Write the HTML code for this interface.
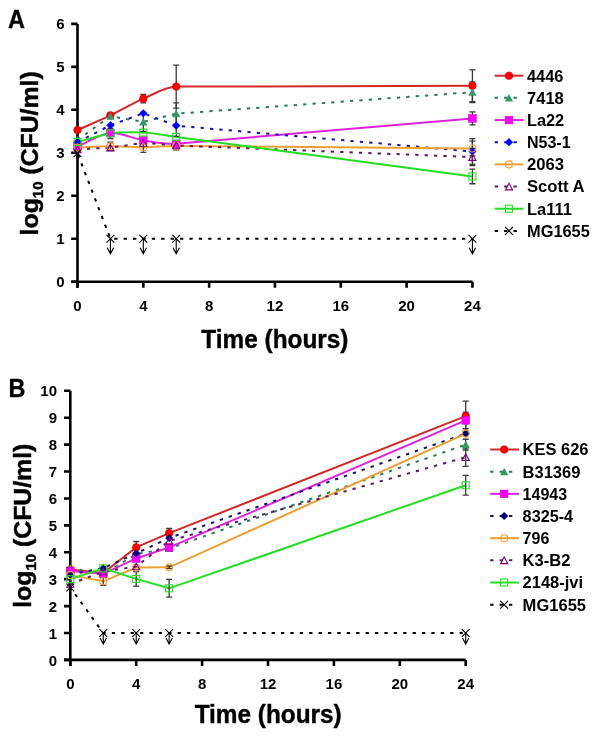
<!DOCTYPE html>
<html><head><meta charset="utf-8"><style>
html,body{margin:0;padding:0;background:#fff;width:600px;height:742px;overflow:hidden;}
svg{display:block;font-family:"Liberation Sans",sans-serif;will-change:transform;}
</style></head><body>
<svg width="600" height="742" viewBox="0 0 600 742">
<rect width="600" height="742" fill="#fff"/>
<text transform="translate(7.9 28.4) scale(0.92 1)" font-size="25.5" stroke="#000" stroke-width="0.35" font-family="Liberation Sans, sans-serif" font-weight="bold">A</text>
<text transform="translate(8.4 396.7) scale(0.92 1)" font-size="25.5" stroke="#000" stroke-width="0.35" font-family="Liberation Sans, sans-serif" font-weight="bold">B</text>
<path d="M77.50 23.88V287.70M71.20 281.70H472.42" stroke="#000" stroke-width="2.6" fill="none"/>
<path d="M71.20 281.70H77.50M71.20 238.73H77.50M71.20 195.76H77.50M71.20 152.79H77.50M71.20 109.82H77.50M71.20 66.85H77.50M71.20 23.88H77.50M77.50 281.70V287.70M143.32 281.70V287.70M209.14 281.70V287.70M274.96 281.70V287.70M340.78 281.70V287.70M406.60 281.70V287.70M472.42 281.70V287.70" stroke="#000" stroke-width="2.6" fill="none" stroke-linecap="butt"/>
<text x="64.50" y="287.30" text-anchor="end" font-size="15" font-family="Liberation Sans, sans-serif" font-weight="bold">0</text>
<text x="64.50" y="244.33" text-anchor="end" font-size="15" font-family="Liberation Sans, sans-serif" font-weight="bold">1</text>
<text x="64.50" y="201.36" text-anchor="end" font-size="15" font-family="Liberation Sans, sans-serif" font-weight="bold">2</text>
<text x="64.50" y="158.39" text-anchor="end" font-size="15" font-family="Liberation Sans, sans-serif" font-weight="bold">3</text>
<text x="64.50" y="115.42" text-anchor="end" font-size="15" font-family="Liberation Sans, sans-serif" font-weight="bold">4</text>
<text x="64.50" y="72.45" text-anchor="end" font-size="15" font-family="Liberation Sans, sans-serif" font-weight="bold">5</text>
<text x="64.50" y="29.48" text-anchor="end" font-size="15" font-family="Liberation Sans, sans-serif" font-weight="bold">6</text>
<text x="77.50" y="311.05" text-anchor="middle" font-size="15" font-family="Liberation Sans, sans-serif" font-weight="bold">0</text>
<text x="143.32" y="311.05" text-anchor="middle" font-size="15" font-family="Liberation Sans, sans-serif" font-weight="bold">4</text>
<text x="209.14" y="311.05" text-anchor="middle" font-size="15" font-family="Liberation Sans, sans-serif" font-weight="bold">8</text>
<text x="274.96" y="311.05" text-anchor="middle" font-size="15" font-family="Liberation Sans, sans-serif" font-weight="bold">12</text>
<text x="340.78" y="311.05" text-anchor="middle" font-size="15" font-family="Liberation Sans, sans-serif" font-weight="bold">16</text>
<text x="406.60" y="311.05" text-anchor="middle" font-size="15" font-family="Liberation Sans, sans-serif" font-weight="bold">20</text>
<text x="472.42" y="311.05" text-anchor="middle" font-size="15" font-family="Liberation Sans, sans-serif" font-weight="bold">24</text>
<text transform="translate(274.90 347.80) scale(0.975 1)" text-anchor="middle" font-size="25" stroke="#000" stroke-width="0.4" font-family="Liberation Sans, sans-serif" font-weight="bold">Time (hours)</text>
<text transform="translate(38.00 153.35) rotate(-90)" text-anchor="middle" font-size="24.8" stroke="#000" stroke-width="0.45" font-family="Liberation Sans, sans-serif" font-weight="bold">log<tspan font-size="15" dy="5.3">10</tspan><tspan dy="-5.3"> (CFU/ml)</tspan></text>
<path d="M77.50 130.02C88.47 125.15 99.44 120.63 110.41 115.41C121.38 110.18 132.35 103.45 143.32 98.65C154.29 93.85 165.26 87.05 176.23 86.62L472.42 85.76" fill="none" stroke="#d42727" stroke-width="2.0"/>
<path d="M77.50 139.90L110.41 116.27L143.32 121.85L176.23 113.69L472.42 92.20" fill="none" stroke="#2b7a5c" stroke-width="2.0" stroke-dasharray="3.3 6.1"/>
<path d="M77.50 146.34C88.47 141.90 99.44 134.03 110.41 133.02C121.38 132.02 132.35 138.54 143.32 140.33C154.29 142.12 165.26 144.50 176.23 143.77L472.42 118.41" fill="none" stroke="#dd22dd" stroke-width="2.0"/>
<path d="M77.50 142.05L110.41 125.29L143.32 113.26L176.23 125.72L472.42 151.50" fill="none" stroke="#1414b8" stroke-width="2.0" stroke-dasharray="3.3 6.1"/>
<path d="M77.50 147.63C88.47 147.20 99.44 146.42 110.41 146.34C121.38 146.27 132.35 147.28 143.32 147.20C154.29 147.13 165.26 145.87 176.23 145.91L472.42 148.49" fill="none" stroke="#eca033" stroke-width="2.0"/>
<path d="M77.50 149.35L110.41 147.63L143.32 142.91L176.23 145.49L472.42 157.09" fill="none" stroke="#5e1a60" stroke-width="2.0" stroke-dasharray="3.3 6.1"/>
<path d="M77.50 142.05C88.47 139.18 99.44 135.03 110.41 133.45C121.38 131.88 132.35 132.02 143.32 132.59C154.29 133.17 165.26 135.43 176.23 136.89L472.42 176.42" fill="none" stroke="#22dd22" stroke-width="2.0"/>
<path d="M77.50 153.22L110.41 238.73L143.32 238.73L176.23 238.73L472.42 238.73" fill="none" stroke="#000000" stroke-width="2.0" stroke-dasharray="3.3 6.1" stroke-dashoffset="-1.4"/>
<path d="M143.32 94.35V102.94M140.32 94.35H146.32M140.32 102.94H146.32" stroke="#3a3a3a" stroke-width="1.3" fill="none"/>
<path d="M176.23 65.13V108.10M173.23 65.13H179.23M173.23 108.10H179.23" stroke="#3a3a3a" stroke-width="1.3" fill="none"/>
<path d="M472.42 69.86V101.66M469.42 69.86H475.42M469.42 101.66H475.42" stroke="#3a3a3a" stroke-width="1.3" fill="none"/>
<path d="M143.32 112.40V131.31M140.32 112.40H146.32M140.32 131.31H146.32" stroke="#3a3a3a" stroke-width="1.3" fill="none"/>
<path d="M176.23 102.94V124.43M173.23 102.94H179.23M173.23 124.43H179.23" stroke="#3a3a3a" stroke-width="1.3" fill="none"/>
<path d="M472.42 81.89V102.52M469.42 81.89H475.42M469.42 102.52H475.42" stroke="#3a3a3a" stroke-width="1.3" fill="none"/>
<path d="M472.42 111.97V124.86M469.42 111.97H475.42M469.42 124.86H475.42" stroke="#3a3a3a" stroke-width="1.3" fill="none"/>
<path d="M176.23 114.98V136.46M173.23 114.98H179.23M173.23 136.46H179.23" stroke="#3a3a3a" stroke-width="1.3" fill="none"/>
<path d="M472.42 138.61V164.39M469.42 138.61H475.42M469.42 164.39H475.42" stroke="#3a3a3a" stroke-width="1.3" fill="none"/>
<path d="M110.41 142.05V150.64M107.41 142.05H113.41M107.41 150.64H113.41" stroke="#3a3a3a" stroke-width="1.3" fill="none"/>
<path d="M143.32 142.05V152.36M140.32 142.05H146.32M140.32 152.36H146.32" stroke="#3a3a3a" stroke-width="1.3" fill="none"/>
<path d="M472.42 141.19V155.80M469.42 141.19H475.42M469.42 155.80H475.42" stroke="#3a3a3a" stroke-width="1.3" fill="none"/>
<path d="M472.42 148.49V165.68M469.42 148.49H475.42M469.42 165.68H475.42" stroke="#3a3a3a" stroke-width="1.3" fill="none"/>
<path d="M176.23 141.19V149.78M173.23 141.19H179.23M173.23 149.78H179.23" stroke="#3a3a3a" stroke-width="1.3" fill="none"/>
<path d="M110.41 128.30V138.61M107.41 128.30H113.41M107.41 138.61H113.41" stroke="#3a3a3a" stroke-width="1.3" fill="none"/>
<path d="M472.42 169.12V183.73M469.42 169.12H475.42M469.42 183.73H475.42" stroke="#3a3a3a" stroke-width="1.3" fill="none"/>
<path d="M110.41 238.73V253.73M107.21 247.73L110.41 253.73L113.61 247.73" stroke="#000" stroke-width="1.1" fill="none"/>
<path d="M143.32 238.73V253.73M140.12 247.73L143.32 253.73L146.52 247.73" stroke="#000" stroke-width="1.1" fill="none"/>
<path d="M176.23 238.73V253.73M173.03 247.73L176.23 253.73L179.43 247.73" stroke="#000" stroke-width="1.1" fill="none"/>
<path d="M472.42 238.73V253.73M469.22 247.73L472.42 253.73L475.62 247.73" stroke="#000" stroke-width="1.1" fill="none"/>
<circle cx="77.50" cy="130.02" r="3.80" fill="#ff0000" stroke="#d00000" stroke-width="0.6"/>
<circle cx="110.41" cy="115.41" r="3.80" fill="#ff0000" stroke="#d00000" stroke-width="0.6"/>
<circle cx="143.32" cy="98.65" r="3.80" fill="#ff0000" stroke="#d00000" stroke-width="0.6"/>
<circle cx="176.23" cy="86.62" r="3.80" fill="#ff0000" stroke="#d00000" stroke-width="0.6"/>
<circle cx="472.42" cy="85.76" r="3.80" fill="#ff0000" stroke="#d00000" stroke-width="0.6"/>
<path d="M77.50 136.00L81.60 143.50L73.40 143.50Z" fill="#339966"/>
<path d="M110.41 112.37L114.51 119.87L106.31 119.87Z" fill="#339966"/>
<path d="M143.32 117.95L147.42 125.45L139.22 125.45Z" fill="#339966"/>
<path d="M176.23 109.79L180.33 117.29L172.13 117.29Z" fill="#339966"/>
<path d="M472.42 88.30L476.52 95.80L468.32 95.80Z" fill="#339966"/>
<rect x="73.70" y="142.54" width="7.60" height="7.60" fill="#ff00ff" stroke="#cc00cc" stroke-width="0.6"/>
<rect x="106.61" y="129.22" width="7.60" height="7.60" fill="#ff00ff" stroke="#cc00cc" stroke-width="0.6"/>
<rect x="139.52" y="136.53" width="7.60" height="7.60" fill="#ff00ff" stroke="#cc00cc" stroke-width="0.6"/>
<rect x="172.43" y="139.97" width="7.60" height="7.60" fill="#ff00ff" stroke="#cc00cc" stroke-width="0.6"/>
<rect x="468.62" y="114.61" width="7.60" height="7.60" fill="#ff00ff" stroke="#cc00cc" stroke-width="0.6"/>
<path d="M77.50 137.95L81.60 142.05L77.50 146.15L73.40 142.05Z" fill="#0000ff"/>
<path d="M110.41 121.19L114.51 125.29L110.41 129.39L106.31 125.29Z" fill="#0000ff"/>
<path d="M143.32 109.16L147.42 113.26L143.32 117.36L139.22 113.26Z" fill="#0000ff"/>
<path d="M176.23 121.62L180.33 125.72L176.23 129.82L172.13 125.72Z" fill="#0000ff"/>
<path d="M472.42 147.40L476.52 151.50L472.42 155.60L468.32 151.50Z" fill="#0000ff"/>
<circle cx="77.50" cy="147.63" r="3.50" fill="none" stroke="#f8a030" stroke-width="1.1"/>
<circle cx="110.41" cy="146.34" r="3.50" fill="none" stroke="#f8a030" stroke-width="1.1"/>
<circle cx="143.32" cy="147.20" r="3.50" fill="none" stroke="#f8a030" stroke-width="1.1"/>
<circle cx="176.23" cy="145.91" r="3.50" fill="none" stroke="#f8a030" stroke-width="1.1"/>
<circle cx="472.42" cy="148.49" r="3.50" fill="none" stroke="#f8a030" stroke-width="1.1"/>
<path d="M77.50 145.95L81.10 152.65L73.90 152.65Z" fill="none" stroke="#800080" stroke-width="1.1"/>
<path d="M110.41 144.23L114.01 150.93L106.81 150.93Z" fill="none" stroke="#800080" stroke-width="1.1"/>
<path d="M143.32 139.51L146.92 146.21L139.72 146.21Z" fill="none" stroke="#800080" stroke-width="1.1"/>
<path d="M176.23 142.09L179.83 148.79L172.63 148.79Z" fill="none" stroke="#800080" stroke-width="1.1"/>
<path d="M472.42 153.69L476.02 160.39L468.82 160.39Z" fill="none" stroke="#800080" stroke-width="1.1"/>
<rect x="74.00" y="138.55" width="7.00" height="7.00" fill="none" stroke="#22dd22" stroke-width="1.1"/>
<rect x="106.91" y="129.95" width="7.00" height="7.00" fill="none" stroke="#22dd22" stroke-width="1.1"/>
<rect x="139.82" y="129.09" width="7.00" height="7.00" fill="none" stroke="#22dd22" stroke-width="1.1"/>
<rect x="172.73" y="133.39" width="7.00" height="7.00" fill="none" stroke="#22dd22" stroke-width="1.1"/>
<rect x="468.92" y="172.92" width="7.00" height="7.00" fill="none" stroke="#22dd22" stroke-width="1.1"/>
<path d="M73.60 149.32L81.40 157.12M81.40 149.32L73.60 157.12" stroke="#000" stroke-width="1.1" fill="none"/>
<path d="M106.51 234.83L114.31 242.63M114.31 234.83L106.51 242.63" stroke="#000" stroke-width="1.1" fill="none"/>
<path d="M139.42 234.83L147.22 242.63M147.22 234.83L139.42 242.63" stroke="#000" stroke-width="1.1" fill="none"/>
<path d="M172.33 234.83L180.13 242.63M180.13 234.83L172.33 242.63" stroke="#000" stroke-width="1.1" fill="none"/>
<path d="M468.52 234.83L476.32 242.63M476.32 234.83L468.52 242.63" stroke="#000" stroke-width="1.1" fill="none"/>
<path d="M494.70 75.70H523.50" stroke="#d42727" stroke-width="2.0"/>
<circle cx="509.00" cy="75.70" r="3.80" fill="#ff0000" stroke="#d00000" stroke-width="0.6"/>
<text transform="translate(527.00 81.60) scale(1.02 1)" font-size="16" font-family="Liberation Sans, sans-serif" font-weight="bold">4446</text>
<path d="M494.70 97.87H520.50" stroke="#2b7a5c" stroke-width="2.0" stroke-dasharray="3.3 6.1"/>
<path d="M509.00 93.97L513.10 101.47L504.90 101.47Z" fill="#339966"/>
<text transform="translate(527.00 103.77) scale(1.035 1)" font-size="16" font-family="Liberation Sans, sans-serif" font-weight="bold">7418</text>
<path d="M494.70 120.04H523.50" stroke="#dd22dd" stroke-width="2.0"/>
<rect x="505.20" y="116.24" width="7.60" height="7.60" fill="#ff00ff" stroke="#cc00cc" stroke-width="0.6"/>
<text transform="translate(527.00 125.94) scale(1.02 1)" font-size="16" font-family="Liberation Sans, sans-serif" font-weight="bold">La22</text>
<path d="M494.70 142.21H520.50" stroke="#1414b8" stroke-width="2.0" stroke-dasharray="3.3 6.1"/>
<path d="M509.00 138.11L513.10 142.21L509.00 146.31L504.90 142.21Z" fill="#0000ff"/>
<text transform="translate(527.00 148.11) scale(1.0 1)" font-size="16" font-family="Liberation Sans, sans-serif" font-weight="bold">N53-1</text>
<path d="M494.70 164.38H523.50" stroke="#eca033" stroke-width="2.0"/>
<circle cx="509.00" cy="164.38" r="3.50" fill="none" stroke="#f8a030" stroke-width="1.1"/>
<text transform="translate(527.00 170.28) scale(1.04 1)" font-size="16" font-family="Liberation Sans, sans-serif" font-weight="bold">2063</text>
<path d="M494.70 186.55H520.50" stroke="#5e1a60" stroke-width="2.0" stroke-dasharray="3.3 6.1"/>
<path d="M509.00 183.15L512.60 189.85L505.40 189.85Z" fill="none" stroke="#800080" stroke-width="1.1"/>
<text transform="translate(527.00 192.45) scale(1.04 1)" font-size="16" font-family="Liberation Sans, sans-serif" font-weight="bold">Scott A</text>
<path d="M494.70 208.72H523.50" stroke="#22dd22" stroke-width="2.0"/>
<rect x="505.50" y="205.22" width="7.00" height="7.00" fill="none" stroke="#22dd22" stroke-width="1.1"/>
<text transform="translate(527.00 214.62) scale(1.03 1)" font-size="16" font-family="Liberation Sans, sans-serif" font-weight="bold">La111</text>
<path d="M494.70 230.89H520.50" stroke="#000000" stroke-width="2.0" stroke-dasharray="3.3 6.1"/>
<path d="M505.10 226.99L512.90 234.79M512.90 226.99L505.10 234.79" stroke="#000" stroke-width="1.1" fill="none"/>
<text transform="translate(527.00 236.79) scale(1.025 1)" font-size="16" font-family="Liberation Sans, sans-serif" font-weight="bold">MG1655</text>
<path d="M70.30 390.80V665.90M64.00 659.90H465.70" stroke="#000" stroke-width="2.6" fill="none"/>
<path d="M64.00 659.90H70.30M64.00 632.99H70.30M64.00 606.08H70.30M64.00 579.17H70.30M64.00 552.26H70.30M64.00 525.35H70.30M64.00 498.44H70.30M64.00 471.53H70.30M64.00 444.62H70.30M64.00 417.71H70.30M64.00 390.80H70.30M70.30 659.90V665.90M136.20 659.90V665.90M202.10 659.90V665.90M268.00 659.90V665.90M333.90 659.90V665.90M399.80 659.90V665.90M465.70 659.90V665.90" stroke="#000" stroke-width="2.6" fill="none" stroke-linecap="butt"/>
<text x="57.00" y="665.50" text-anchor="end" font-size="15" font-family="Liberation Sans, sans-serif" font-weight="bold">0</text>
<text x="57.00" y="638.59" text-anchor="end" font-size="15" font-family="Liberation Sans, sans-serif" font-weight="bold">1</text>
<text x="57.00" y="611.68" text-anchor="end" font-size="15" font-family="Liberation Sans, sans-serif" font-weight="bold">2</text>
<text x="57.00" y="584.77" text-anchor="end" font-size="15" font-family="Liberation Sans, sans-serif" font-weight="bold">3</text>
<text x="57.00" y="557.86" text-anchor="end" font-size="15" font-family="Liberation Sans, sans-serif" font-weight="bold">4</text>
<text x="57.00" y="530.95" text-anchor="end" font-size="15" font-family="Liberation Sans, sans-serif" font-weight="bold">5</text>
<text x="57.00" y="504.04" text-anchor="end" font-size="15" font-family="Liberation Sans, sans-serif" font-weight="bold">6</text>
<text x="57.00" y="477.13" text-anchor="end" font-size="15" font-family="Liberation Sans, sans-serif" font-weight="bold">7</text>
<text x="57.00" y="450.22" text-anchor="end" font-size="15" font-family="Liberation Sans, sans-serif" font-weight="bold">8</text>
<text x="57.00" y="423.31" text-anchor="end" font-size="15" font-family="Liberation Sans, sans-serif" font-weight="bold">9</text>
<text x="57.00" y="396.40" text-anchor="end" font-size="15" font-family="Liberation Sans, sans-serif" font-weight="bold">10</text>
<text x="70.30" y="688.85" text-anchor="middle" font-size="15" font-family="Liberation Sans, sans-serif" font-weight="bold">0</text>
<text x="136.20" y="688.85" text-anchor="middle" font-size="15" font-family="Liberation Sans, sans-serif" font-weight="bold">4</text>
<text x="202.10" y="688.85" text-anchor="middle" font-size="15" font-family="Liberation Sans, sans-serif" font-weight="bold">8</text>
<text x="268.00" y="688.85" text-anchor="middle" font-size="15" font-family="Liberation Sans, sans-serif" font-weight="bold">12</text>
<text x="333.90" y="688.85" text-anchor="middle" font-size="15" font-family="Liberation Sans, sans-serif" font-weight="bold">16</text>
<text x="399.80" y="688.85" text-anchor="middle" font-size="15" font-family="Liberation Sans, sans-serif" font-weight="bold">20</text>
<text x="465.70" y="688.85" text-anchor="middle" font-size="15" font-family="Liberation Sans, sans-serif" font-weight="bold">24</text>
<text transform="translate(268.20 723.20) scale(0.975 1)" text-anchor="middle" font-size="25" stroke="#000" stroke-width="0.4" font-family="Liberation Sans, sans-serif" font-weight="bold">Time (hours)</text>
<text transform="translate(31.00 525.75) rotate(-90)" text-anchor="middle" font-size="24.8" stroke="#000" stroke-width="0.45" font-family="Liberation Sans, sans-serif" font-weight="bold">log<tspan font-size="15" dy="5.3">10</tspan><tspan dy="-5.3"> (CFU/ml)</tspan></text>
<path d="M70.30 569.48L103.25 572.98L136.20 547.42L169.15 533.15L465.70 416.10" fill="none" stroke="#d42727" stroke-width="2.0"/>
<path d="M70.30 568.14L103.25 574.06L136.20 554.14L169.15 548.49L465.70 444.62" fill="none" stroke="#2b7a5c" stroke-width="2.0" stroke-dasharray="3.3 6.1"/>
<path d="M70.30 571.10L103.25 573.79L136.20 558.45L169.15 547.42L465.70 420.40" fill="none" stroke="#dd22dd" stroke-width="2.0"/>
<path d="M70.30 574.60L103.25 568.14L136.20 553.34L169.15 538.00L465.70 433.59" fill="none" stroke="#10106e" stroke-width="2.0" stroke-dasharray="3.3 6.1"/>
<path d="M70.30 575.13L103.25 581.32L136.20 567.60L169.15 567.33L465.70 433.59" fill="none" stroke="#eca033" stroke-width="2.0"/>
<path d="M70.30 584.01L103.25 571.64L136.20 566.52L169.15 540.96L465.70 457.27" fill="none" stroke="#5e1a60" stroke-width="2.0" stroke-dasharray="3.3 6.1"/>
<path d="M70.30 579.17L103.25 568.41L136.20 578.90L169.15 588.32L465.70 485.25" fill="none" stroke="#22dd22" stroke-width="2.0"/>
<path d="M70.30 587.51L103.25 632.99L136.20 632.99L169.15 632.99L465.70 632.99" fill="none" stroke="#000000" stroke-width="2.0" stroke-dasharray="3.3 6.1" stroke-dashoffset="-8.3"/>
<path d="M136.20 541.50V553.34M133.20 541.50H139.20M133.20 553.34H139.20" stroke="#3a3a3a" stroke-width="1.3" fill="none"/>
<path d="M169.15 528.31V538.00M166.15 528.31H172.15M166.15 538.00H172.15" stroke="#3a3a3a" stroke-width="1.3" fill="none"/>
<path d="M465.70 401.03V431.16M462.70 401.03H468.70M462.70 431.16H468.70" stroke="#3a3a3a" stroke-width="1.3" fill="none"/>
<path d="M465.70 439.24V450.00M462.70 439.24H468.70M462.70 450.00H468.70" stroke="#3a3a3a" stroke-width="1.3" fill="none"/>
<path d="M465.70 412.06V428.74M462.70 412.06H468.70M462.70 428.74H468.70" stroke="#3a3a3a" stroke-width="1.3" fill="none"/>
<path d="M103.25 577.29V585.36M100.25 577.29H106.25M100.25 585.36H106.25" stroke="#3a3a3a" stroke-width="1.3" fill="none"/>
<path d="M169.15 565.98V568.68M166.15 565.98H172.15M166.15 568.68H172.15" stroke="#3a3a3a" stroke-width="1.3" fill="none"/>
<path d="M465.70 448.12V466.42M462.70 448.12H468.70M462.70 466.42H468.70" stroke="#3a3a3a" stroke-width="1.3" fill="none"/>
<path d="M136.20 571.64V586.17M133.20 571.64H139.20M133.20 586.17H139.20" stroke="#3a3a3a" stroke-width="1.3" fill="none"/>
<path d="M169.15 579.44V597.20M166.15 579.44H172.15M166.15 597.20H172.15" stroke="#3a3a3a" stroke-width="1.3" fill="none"/>
<path d="M465.70 475.30V495.21M462.70 475.30H468.70M462.70 495.21H468.70" stroke="#3a3a3a" stroke-width="1.3" fill="none"/>
<path d="M103.25 632.99V643.99M100.05 637.99L103.25 643.99L106.45 637.99" stroke="#000" stroke-width="1.1" fill="none"/>
<path d="M136.20 632.99V643.99M133.00 637.99L136.20 643.99L139.40 637.99" stroke="#000" stroke-width="1.1" fill="none"/>
<path d="M169.15 632.99V643.99M165.95 637.99L169.15 643.99L172.35 637.99" stroke="#000" stroke-width="1.1" fill="none"/>
<path d="M465.70 632.99V643.99M462.50 637.99L465.70 643.99L468.90 637.99" stroke="#000" stroke-width="1.1" fill="none"/>
<circle cx="70.30" cy="569.48" r="3.80" fill="#ff0000" stroke="#d00000" stroke-width="0.6"/>
<circle cx="103.25" cy="572.98" r="3.80" fill="#ff0000" stroke="#d00000" stroke-width="0.6"/>
<circle cx="136.20" cy="547.42" r="3.80" fill="#ff0000" stroke="#d00000" stroke-width="0.6"/>
<circle cx="169.15" cy="533.15" r="3.80" fill="#ff0000" stroke="#d00000" stroke-width="0.6"/>
<circle cx="465.70" cy="416.10" r="3.80" fill="#ff0000" stroke="#d00000" stroke-width="0.6"/>
<path d="M70.30 564.24L74.40 571.74L66.20 571.74Z" fill="#339966"/>
<path d="M103.25 570.16L107.35 577.66L99.15 577.66Z" fill="#339966"/>
<path d="M136.20 550.24L140.30 557.74L132.10 557.74Z" fill="#339966"/>
<path d="M169.15 544.59L173.25 552.09L165.05 552.09Z" fill="#339966"/>
<path d="M465.70 440.72L469.80 448.22L461.60 448.22Z" fill="#339966"/>
<rect x="66.50" y="567.30" width="7.60" height="7.60" fill="#ff00ff" stroke="#cc00cc" stroke-width="0.6"/>
<rect x="99.45" y="569.99" width="7.60" height="7.60" fill="#ff00ff" stroke="#cc00cc" stroke-width="0.6"/>
<rect x="132.40" y="554.65" width="7.60" height="7.60" fill="#ff00ff" stroke="#cc00cc" stroke-width="0.6"/>
<rect x="165.35" y="543.62" width="7.60" height="7.60" fill="#ff00ff" stroke="#cc00cc" stroke-width="0.6"/>
<rect x="461.90" y="416.60" width="7.60" height="7.60" fill="#ff00ff" stroke="#cc00cc" stroke-width="0.6"/>
<path d="M70.30 570.50L74.40 574.60L70.30 578.70L66.20 574.60Z" fill="#000080"/>
<path d="M103.25 564.04L107.35 568.14L103.25 572.24L99.15 568.14Z" fill="#000080"/>
<path d="M136.20 549.24L140.30 553.34L136.20 557.44L132.10 553.34Z" fill="#000080"/>
<path d="M169.15 533.90L173.25 538.00L169.15 542.10L165.05 538.00Z" fill="#000080"/>
<path d="M465.70 429.49L469.80 433.59L465.70 437.69L461.60 433.59Z" fill="#000080"/>
<circle cx="70.30" cy="575.13" r="3.50" fill="none" stroke="#f8a030" stroke-width="1.1"/>
<circle cx="103.25" cy="581.32" r="3.50" fill="none" stroke="#f8a030" stroke-width="1.1"/>
<circle cx="136.20" cy="567.60" r="3.50" fill="none" stroke="#f8a030" stroke-width="1.1"/>
<circle cx="169.15" cy="567.33" r="3.50" fill="none" stroke="#f8a030" stroke-width="1.1"/>
<circle cx="465.70" cy="433.59" r="3.50" fill="none" stroke="#f8a030" stroke-width="1.1"/>
<path d="M70.30 580.61L73.90 587.31L66.70 587.31Z" fill="none" stroke="#800080" stroke-width="1.1"/>
<path d="M103.25 568.24L106.85 574.94L99.65 574.94Z" fill="none" stroke="#800080" stroke-width="1.1"/>
<path d="M136.20 563.12L139.80 569.82L132.60 569.82Z" fill="none" stroke="#800080" stroke-width="1.1"/>
<path d="M169.15 537.56L172.75 544.26L165.55 544.26Z" fill="none" stroke="#800080" stroke-width="1.1"/>
<path d="M465.70 453.87L469.30 460.57L462.10 460.57Z" fill="none" stroke="#800080" stroke-width="1.1"/>
<rect x="66.80" y="575.67" width="7.00" height="7.00" fill="none" stroke="#22dd22" stroke-width="1.1"/>
<rect x="99.75" y="564.91" width="7.00" height="7.00" fill="none" stroke="#22dd22" stroke-width="1.1"/>
<rect x="132.70" y="575.40" width="7.00" height="7.00" fill="none" stroke="#22dd22" stroke-width="1.1"/>
<rect x="165.65" y="584.82" width="7.00" height="7.00" fill="none" stroke="#22dd22" stroke-width="1.1"/>
<rect x="462.20" y="481.75" width="7.00" height="7.00" fill="none" stroke="#22dd22" stroke-width="1.1"/>
<path d="M66.40 583.61L74.20 591.41M74.20 583.61L66.40 591.41" stroke="#000" stroke-width="1.1" fill="none"/>
<path d="M99.35 629.09L107.15 636.89M107.15 629.09L99.35 636.89" stroke="#000" stroke-width="1.1" fill="none"/>
<path d="M132.30 629.09L140.10 636.89M140.10 629.09L132.30 636.89" stroke="#000" stroke-width="1.1" fill="none"/>
<path d="M165.25 629.09L173.05 636.89M173.05 629.09L165.25 636.89" stroke="#000" stroke-width="1.1" fill="none"/>
<path d="M461.80 629.09L469.60 636.89M469.60 629.09L461.80 636.89" stroke="#000" stroke-width="1.1" fill="none"/>
<path d="M490.20 449.50H519.00" stroke="#d42727" stroke-width="2.0"/>
<circle cx="504.20" cy="449.50" r="3.80" fill="#ff0000" stroke="#d00000" stroke-width="0.6"/>
<text transform="translate(522.60 455.40) scale(1.03 1)" font-size="16" font-family="Liberation Sans, sans-serif" font-weight="bold">KES 626</text>
<path d="M490.20 471.67H516.00" stroke="#2b7a5c" stroke-width="2.0" stroke-dasharray="3.3 6.1"/>
<path d="M504.20 467.77L508.30 475.27L500.10 475.27Z" fill="#339966"/>
<text transform="translate(522.60 477.57) scale(1.03 1)" font-size="16" font-family="Liberation Sans, sans-serif" font-weight="bold">B31369</text>
<path d="M490.20 493.84H519.00" stroke="#dd22dd" stroke-width="2.0"/>
<rect x="500.40" y="490.04" width="7.60" height="7.60" fill="#ff00ff" stroke="#cc00cc" stroke-width="0.6"/>
<text transform="translate(522.60 499.74) scale(1.0 1)" font-size="16" font-family="Liberation Sans, sans-serif" font-weight="bold">14943</text>
<path d="M490.20 516.01H516.00" stroke="#10106e" stroke-width="2.0" stroke-dasharray="3.3 6.1"/>
<path d="M504.20 511.91L508.30 516.01L504.20 520.11L500.10 516.01Z" fill="#000080"/>
<text transform="translate(522.60 521.91) scale(1.015 1)" font-size="16" font-family="Liberation Sans, sans-serif" font-weight="bold">8325-4</text>
<path d="M490.20 538.18H519.00" stroke="#eca033" stroke-width="2.0"/>
<circle cx="504.20" cy="538.18" r="3.50" fill="none" stroke="#f8a030" stroke-width="1.1"/>
<text transform="translate(522.60 544.08) scale(1.0 1)" font-size="16" font-family="Liberation Sans, sans-serif" font-weight="bold">796</text>
<path d="M490.20 560.35H516.00" stroke="#5e1a60" stroke-width="2.0" stroke-dasharray="3.3 6.1"/>
<path d="M504.20 556.95L507.80 563.65L500.60 563.65Z" fill="none" stroke="#800080" stroke-width="1.1"/>
<text transform="translate(522.60 566.25) scale(1.035 1)" font-size="16" font-family="Liberation Sans, sans-serif" font-weight="bold">K3-B2</text>
<path d="M490.20 582.52H519.00" stroke="#22dd22" stroke-width="2.0"/>
<rect x="500.70" y="579.02" width="7.00" height="7.00" fill="none" stroke="#22dd22" stroke-width="1.1"/>
<text transform="translate(522.60 588.42) scale(1.03 1)" font-size="16" font-family="Liberation Sans, sans-serif" font-weight="bold">2148-jvi</text>
<path d="M490.20 604.69H516.00" stroke="#000000" stroke-width="2.0" stroke-dasharray="3.3 6.1"/>
<path d="M500.30 600.79L508.10 608.59M508.10 600.79L500.30 608.59" stroke="#000" stroke-width="1.1" fill="none"/>
<text transform="translate(522.60 610.59) scale(1.035 1)" font-size="16" font-family="Liberation Sans, sans-serif" font-weight="bold">MG1655</text>
</svg>
</body></html>
